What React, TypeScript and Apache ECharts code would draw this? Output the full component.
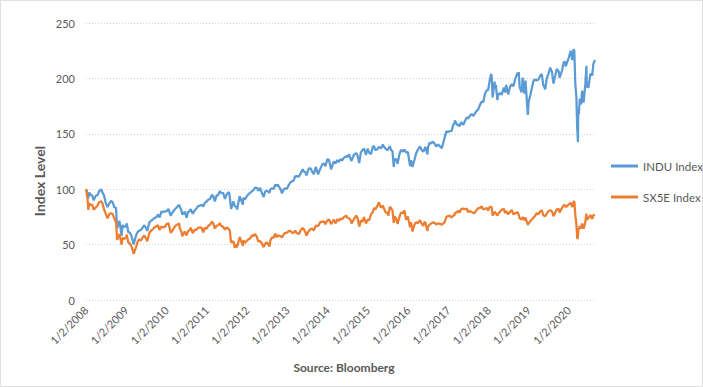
import React, { useEffect, useRef } from "react";
import * as echarts from "echarts";

const dates: string[] = [
  // 2008
  "2008-01-02","2008-01-15","2008-01-22","2008-01-31","2008-02-15","2008-02-29","2008-03-10","2008-03-31","2008-04-15","2008-04-30","2008-05-19","2008-05-30","2008-06-13","2008-06-30","2008-07-15","2008-07-31","2008-08-15","2008-08-29","2008-09-15","2008-09-30","2008-10-10","2008-10-31","2008-11-20","2008-11-28","2008-12-15","2008-12-31",
  // 2009
  "2009-01-06","2009-01-20","2009-01-30","2009-02-17","2009-02-27","2009-03-09","2009-03-31","2009-04-15","2009-04-30","2009-05-15","2009-05-29","2009-06-12","2009-06-30","2009-07-10","2009-07-31","2009-08-14","2009-08-31","2009-09-15","2009-09-30","2009-10-15","2009-10-30","2009-11-16","2009-11-30","2009-12-15","2009-12-31",
  // 2010
  "2010-01-19","2010-02-08","2010-02-26","2010-03-15","2010-03-31","2010-04-26","2010-04-30","2010-05-14","2010-05-25","2010-06-15","2010-07-02","2010-07-15","2010-07-30","2010-08-09","2010-08-27","2010-09-15","2010-09-30","2010-10-15","2010-10-29","2010-11-15","2010-11-30","2010-12-15","2010-12-31",
  // 2011
  "2011-01-14","2011-01-31","2011-02-18","2011-02-28","2011-03-16","2011-03-31","2011-04-15","2011-04-29","2011-05-13","2011-05-31","2011-06-15","2011-06-30","2011-07-21","2011-07-29","2011-08-10","2011-08-31","2011-09-12","2011-09-30","2011-10-03","2011-10-27","2011-11-25","2011-11-30","2011-12-15","2011-12-30",
  // 2012
  "2012-01-13","2012-01-31","2012-02-15","2012-02-29","2012-03-16","2012-03-30","2012-04-13","2012-04-30","2012-05-15","2012-06-01","2012-06-15","2012-06-29","2012-07-24","2012-07-31","2012-08-15","2012-08-31","2012-09-14","2012-09-28","2012-10-05","2012-10-31","2012-11-15","2012-11-30","2012-12-14","2012-12-31",
  // 2013
  "2013-01-15","2013-01-31","2013-02-15","2013-02-28","2013-03-14","2013-03-28","2013-04-18","2013-04-30","2013-05-21","2013-05-31","2013-06-14","2013-06-24","2013-07-15","2013-07-31","2013-08-15","2013-08-30","2013-09-18","2013-09-30","2013-10-08","2013-10-31","2013-11-15","2013-11-29","2013-12-13","2013-12-31",
  // 2014
  "2014-01-15","2014-02-03","2014-02-28","2014-03-14","2014-03-31","2014-04-15","2014-04-30","2014-05-15","2014-05-30","2014-06-20","2014-06-30","2014-07-16","2014-07-31","2014-08-07","2014-08-29","2014-09-19","2014-09-30","2014-10-16","2014-10-31","2014-11-14","2014-11-28","2014-12-16","2014-12-31",
  // 2015
  "2015-01-15","2015-01-30","2015-02-17","2015-02-27","2015-03-11","2015-03-31","2015-04-13","2015-04-30","2015-05-19","2015-05-29","2015-06-15","2015-06-30","2015-07-07","2015-07-20","2015-07-31","2015-08-14","2015-08-25","2015-08-31","2015-09-15","2015-09-29","2015-10-15","2015-10-30","2015-11-16","2015-11-30","2015-12-14","2015-12-31",
  // 2016
  "2016-01-20","2016-01-29","2016-02-11","2016-02-29","2016-03-15","2016-03-31","2016-04-20","2016-04-29","2016-05-19","2016-05-31","2016-06-08","2016-06-27","2016-06-30","2016-07-15","2016-07-29","2016-08-15","2016-08-31","2016-09-13","2016-09-30","2016-10-14","2016-11-04","2016-11-30","2016-12-15","2016-12-30",
  // 2017
  "2017-01-13","2017-01-31","2017-02-15","2017-02-28","2017-03-01","2017-03-27","2017-03-31","2017-04-13","2017-04-28","2017-05-17","2017-05-31","2017-06-19","2017-06-30","2017-07-14","2017-07-31","2017-08-18","2017-08-31","2017-09-15","2017-09-29","2017-10-16","2017-10-31","2017-11-15","2017-11-30","2017-12-15","2017-12-29",
  // 2018
  "2018-01-12","2018-01-26","2018-01-31","2018-02-08","2018-02-26","2018-02-28","2018-03-09","2018-03-23","2018-03-29","2018-04-13","2018-04-30","2018-05-21","2018-05-31","2018-06-11","2018-06-28","2018-07-17","2018-07-31","2018-08-15","2018-08-31","2018-09-21","2018-09-28","2018-10-03","2018-10-11","2018-10-29","2018-11-07","2018-11-23","2018-12-03","2018-12-24","2018-12-31",
  // 2019
  "2019-01-15","2019-01-31","2019-02-15","2019-02-28","2019-03-15","2019-03-29","2019-04-15","2019-04-30","2019-05-13","2019-05-31","2019-06-14","2019-06-28","2019-07-15","2019-07-31","2019-08-14","2019-08-30","2019-09-12","2019-09-30","2019-10-08","2019-10-31","2019-11-15","2019-11-29","2019-12-03","2019-12-31",
  // 2020
  "2020-01-17","2020-01-31","2020-02-12","2020-02-19","2020-02-28","2020-03-09","2020-03-16","2020-03-18","2020-03-23","2020-03-26","2020-03-31","2020-04-09","2020-04-21","2020-04-29","2020-05-13","2020-05-29","2020-06-08","2020-06-11","2020-06-26","2020-07-14","2020-07-31","2020-08-10","2020-08-25",
];

const induIndex: number[] = [
  100.0,95.8,91.8,97.0,94.7,94.0,90.0,94.0,94.8,98.3,99.9,96.9,94.4,87.0,84.0,87.2,89.4,88.5,83.7,83.2,64.8,71.5,57.9,67.7,65.7,67.3,
  69.1,60.9,61.3,57.9,54.1,50.2,58.3,61.6,62.6,63.4,65.2,67.5,64.8,62.4,70.3,71.5,72.8,74.2,74.5,77.1,74.5,79.8,79.3,80.1,79.9,
  82.2,76.0,79.2,81.6,83.2,85.9,84.4,81.4,77.0,79.8,74.3,79.4,80.2,82.0,77.8,81.0,82.7,84.8,85.2,85.9,84.4,87.8,88.8,
  90.4,91.2,95.0,93.7,89.0,94.4,94.6,98.2,96.6,96.4,91.2,95.2,97.5,93.1,82.2,89.0,84.8,83.7,81.7,93.6,86.1,92.3,91.0,93.7,
  95.2,96.9,98.0,99.3,101.4,101.3,98.5,101.3,96.8,92.9,97.9,98.7,96.7,99.7,100.9,100.4,104.2,103.0,104.3,100.4,96.2,99.9,100.7,100.5,
  103.8,106.3,107.2,107.7,111.5,111.8,111.4,113.8,118.0,115.9,115.5,112.4,118.7,118.8,115.9,113.5,120.2,116.0,113.3,119.2,122.4,123.3,120.8,127.1,
  126.3,117.9,125.1,123.2,126.2,124.7,127.1,126.1,128.2,129.9,129.0,131.4,127.0,125.5,131.1,132.5,130.7,123.6,133.3,135.2,136.7,130.9,136.6,
  132.8,131.6,138.4,139.0,135.2,136.3,138.3,136.8,140.4,138.1,136.4,135.1,136.3,138.8,135.6,134.0,120.1,126.7,127.3,123.0,131.4,135.4,134.0,135.8,133.1,133.6,
  120.9,126.2,120.1,126.6,132.3,135.6,138.7,136.3,133.7,136.4,138.0,131.4,137.5,141.9,141.3,142.9,141.1,138.5,140.4,139.1,137.1,146.6,152.2,151.5,
  152.4,152.3,158.0,159.5,161.9,157.5,158.4,156.8,160.5,158.0,161.1,165.0,163.7,165.9,167.8,166.2,168.3,170.7,171.8,176.0,179.2,178.4,186.1,189.0,189.5,
  197.8,204.1,200.5,182.9,197.1,191.9,194.2,180.4,184.8,186.8,185.2,191.8,187.2,194.1,185.6,192.6,194.8,192.9,199.1,205.0,202.8,205.7,192.1,187.4,200.7,186.2,198.0,167.1,178.8,
  184.5,191.7,198.4,198.7,198.2,198.8,202.3,203.9,194.2,190.2,200.0,203.9,209.7,205.9,195.3,202.4,208.4,206.4,200.6,207.3,214.7,215.0,210.8,218.8,
  225.0,216.6,226.5,225.0,194.8,182.8,154.8,152.6,142.5,172.9,168.0,181.8,176.5,188.9,178.2,194.6,211.4,192.6,191.8,204.3,202.6,213.1,216.6,
];

const sx5eIndex: number[] = [
  100.0,91.3,81.4,87.4,85.6,85.8,81.4,83.6,85.3,88.2,89.2,87.0,82.0,77.3,73.8,77.6,78.4,77.6,73.5,70.0,54.2,59.7,49.9,56.0,55.3,56.5,
  59.0,51.6,51.5,48.4,45.5,41.7,47.7,52.8,54.8,53.7,56.5,58.3,55.4,53.0,60.8,62.7,64.0,65.7,66.2,67.5,63.2,66.4,65.6,65.7,68.3,
  69.4,60.6,62.9,65.9,67.6,69.1,64.9,62.2,57.6,61.8,58.3,62.2,63.2,65.2,60.4,63.6,63.3,65.2,65.5,65.2,61.1,65.2,64.4,
  66.8,68.1,70.7,69.4,64.5,67.1,67.3,69.4,66.8,66.0,63.4,65.6,64.1,62.7,51.9,53.1,47.2,50.2,47.5,56.9,48.9,53.7,51.6,53.4,
  54.6,55.7,58.3,57.9,59.5,57.1,53.0,53.1,51.2,47.7,50.7,52.2,48.3,53.6,56.5,56.2,59.9,56.6,58.3,57.7,56.5,59.3,60.5,60.8,
  62.2,62.3,60.6,60.7,62.7,60.5,59.5,62.5,65.0,63.8,61.3,58.1,62.2,63.8,64.5,62.7,67.3,66.7,66.8,70.7,70.3,71.1,68.5,71.7,
  72.6,68.5,72.6,69.1,72.9,71.4,73.7,72.8,74.8,76.1,74.4,73.8,71.8,69.1,73.1,76.1,74.4,66.2,71.8,70.5,74.9,69.1,72.5,
  72.1,77.2,79.5,82.9,81.8,85.2,88.2,83.3,85.3,82.3,78.8,78.9,76.1,84.1,83.0,80.7,69.6,75.4,73.5,68.7,74.9,78.8,78.4,80.8,72.6,75.3,
  65.7,70.2,61.8,67.9,70.3,69.3,72.1,69.8,66.8,70.6,69.8,62.2,66.0,68.0,68.9,70.1,69.7,68.0,69.2,68.9,68.0,70.3,74.9,75.8,
  76.1,74.5,76.1,76.5,78.4,79.5,80.7,78.8,82.0,82.5,81.9,82.5,79.3,80.4,79.5,78.4,78.8,81.1,82.9,83.0,84.7,81.8,82.3,83.0,80.8,
  84.1,84.1,83.2,76.1,79.5,79.3,78.4,76.1,77.5,79.5,81.5,82.3,78.5,80.2,77.4,79.7,81.2,77.4,78.2,79.1,78.3,78.4,73.8,72.6,74.9,72.1,74.4,67.7,69.2,
  71.0,72.8,74.4,76.0,78.4,77.3,80.0,81.0,76.5,75.6,77.9,80.1,81.1,79.9,75.6,79.0,81.6,82.3,79.1,83.1,85.7,85.4,83.7,86.3,
  87.6,83.9,88.7,89.1,76.7,68.2,56.5,55.0,57.3,62.5,64.2,66.6,64.5,69.0,64.3,70.3,77.9,72.6,73.8,76.7,73.1,76.5,76.7,
];

const seriesNames = ["INDU Index", "SX5E Index"];
const yTicks = { min: 0, max: 250, interval: 50 };
const firstYear = 2008;
const lastDate = "2020-08-25";

function toYear(s: string): number {
  const [y, m, d] = s.split("-").map(Number);
  const start = Date.UTC(y, 0, 1);
  const end = Date.UTC(y + 1, 0, 1);
  return y + (Date.UTC(y, m - 1, d) - start) / (end - start);
}

const FONT = "Lato, 'Open Sans', sans-serif";
const GREY = "#595959";

export default function App() {
  const ref = useRef<HTMLDivElement>(null);
  useEffect(() => {
    document.body.style.margin = "0";
    if (!ref.current) return;
    const chart = echarts.init(ref.current, undefined, { renderer: "svg" });
    const pair = (vals: number[]) => dates.map((d, i) => [toYear(d), vals[i]]);
    chart.setOption({
      animation: false,
      backgroundColor: "#ffffff",
      textStyle: { fontFamily: FONT },
      grid: { left: 86, right: 108, top: 23, bottom: 87, containLabel: false },
      legend: {
        orient: "vertical",
        left: 606,
        top: 155,
        itemGap: 19,
        itemWidth: 27,
        itemHeight: 3,
        icon: "rect",
        data: seriesNames,
        textStyle: { color: GREY, fontSize: 11.5, fontFamily: FONT },
      },
      xAxis: {
        type: "value",
        min: firstYear,
        max: toYear(lastDate),
        interval: 1,
        axisLine: { show: false },
        axisTick: { show: false },
        splitLine: { show: false },
        axisLabel: {
          rotate: 45,
          margin: 8,
          color: GREY,
          fontSize: 11,
          fontFamily: FONT,
          showMaxLabel: false,
          formatter: (v: number) => (Math.abs(v - Math.round(v)) < 1e-6 ? `1/2/${Math.round(v)}` : ""),
        },
      },
      yAxis: {
        type: "value",
        min: yTicks.min,
        max: yTicks.max,
        interval: yTicks.interval,
        axisLine: { show: false },
        axisTick: { show: false },
        axisLabel: { color: GREY, fontSize: 11, fontFamily: FONT, margin: 11 },
        splitLine: { lineStyle: { color: "#cfcfcf", type: [1, 2], width: 1 } },
      },
      series: [
        {
          name: seriesNames[0],
          type: "line",
          symbol: "none",
          data: pair(induIndex),
          itemStyle: { color: "#5B9BD5" },
          lineStyle: { color: "#5B9BD5", width: 2.25 },
        },
        {
          name: seriesNames[1],
          type: "line",
          symbol: "none",
          data: pair(sx5eIndex),
          itemStyle: { color: "#ED7D31" },
          lineStyle: { color: "#ED7D31", width: 2.25 },
        },
      ],
      graphic: [
        {
          type: "rect",
          shape: { x: 0.5, y: 0.5, width: 702, height: 386 },
          style: { fill: "none", stroke: "#bfbfbf", lineWidth: 1, lineDash: [1, 1] },
          silent: true,
        },
        {
          type: "text",
          x: 39,
          y: 181,
          rotation: Math.PI / 2,
          style: {
            text: "Index Level",
            fill: GREY,
            font: `bold 14px ${FONT}`,
            align: "center",
            verticalAlign: "middle",
            textAlign: "center",
            textVerticalAlign: "middle",
          },
        },
        {
          type: "text",
          x: 344,
          y: 367,
          style: {
            text: "Source: Bloomberg",
            fill: GREY,
            font: `bold 12px ${FONT}`,
            align: "center",
            verticalAlign: "middle",
            textAlign: "center",
            textVerticalAlign: "middle",
          },
        },
      ],
    });
    return () => chart.dispose();
  }, []);
  return <div ref={ref} style={{ width: 703, height: 387 }} />;
}
